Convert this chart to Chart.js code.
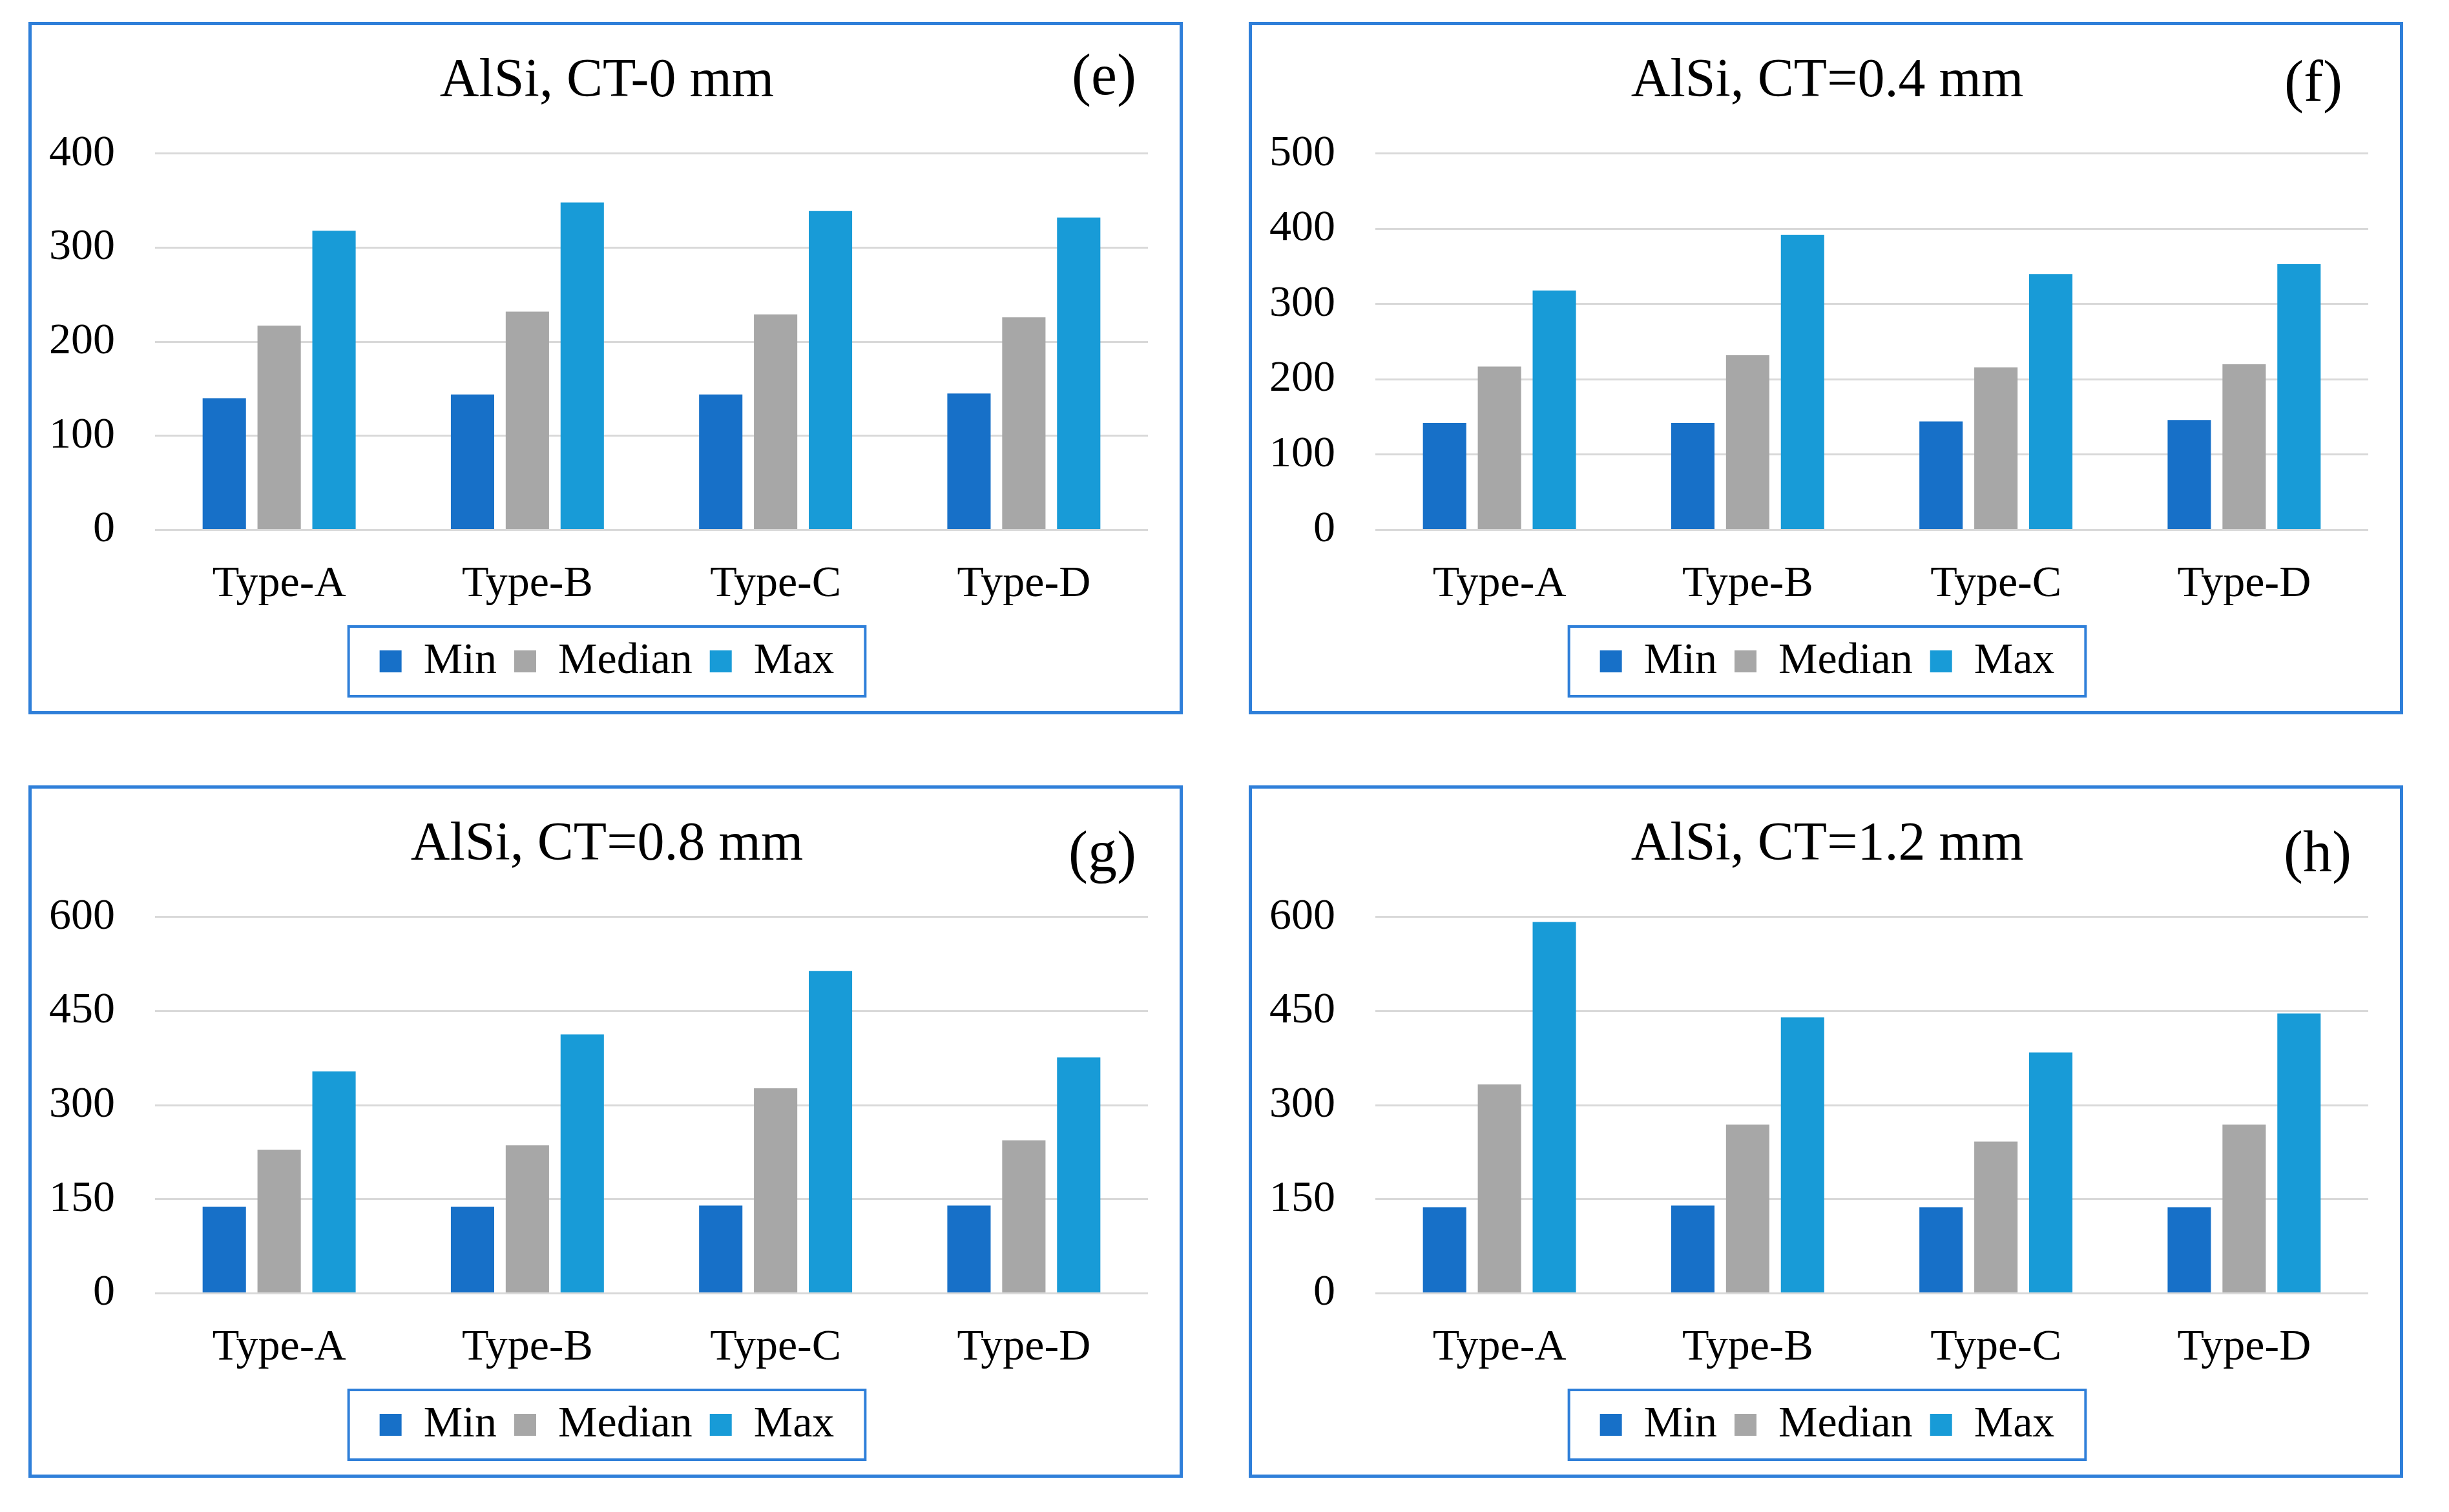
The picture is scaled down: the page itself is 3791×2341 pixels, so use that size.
<!DOCTYPE html>
<html lang="en">
<head>
<meta charset="UTF-8">
<title>AlSi - Min / Median / Max by type</title>
<script src="https://cdn.jsdelivr.net/npm/chart.js@4"></script>
<style>
  body { margin: 0; background: #fff; width: 3791px; height: 2341px; position: relative; overflow: hidden; }
  .panel { position: absolute; width: 1787px; height: 1072px; box-sizing: border-box; border: 5px solid #2f7fd9; }
  .panel canvas { position: absolute; left: -5px; top: -5px; }
  .tag { position: absolute; font-family: 'Liberation Serif', 'Times New Roman', serif; font-size: 90px; line-height: 90px; color: #000; }
</style>
</head>
<body>

<script>
// categories and series
const categories = ['Type-A', 'Type-B', 'Type-C', 'Type-D'];
const seriesNames = ['Min', 'Median', 'Max'];
const titles = ['AlSi, CT-0 mm', 'AlSi, CT=0.4 mm', 'AlSi, CT=0.8 mm', 'AlSi, CT=1.2 mm'];
const tags = ['(e)', '(f)', '(g)', '(h)'];

// values
const minE = [140, 144, 144, 145];
const medE = [217, 232, 229, 226];
const maxE = [318, 348, 339, 332];

const minF = [142, 142, 144, 146];
const medF = [217, 232, 216, 220];
const maxF = [318, 392, 340, 353];

const minG = [138, 138, 140, 140];
const medG = [229, 236, 327, 244];
const maxG = [354, 413, 514, 376];

const minH = [137, 140, 137, 137];
const medH = [333, 269, 242, 269];
const maxH = [592, 440, 384, 446];

// y axis ticks
const yMax = [400, 500, 600, 600];
const yStep = [100, 100, 150, 150];

const mins = [minE, minF, minG, minH];
const meds = [medE, medF, medG, medH];
const maxs = [maxE, maxF, maxG, maxH];

// layout (page px)
const panelPos = [[44, 34], [1933, 34], [44, 1216], [1933, 1216]];
const tagRight = [72, 94, 72, 80];
const tagMidY = [82, 92, 103, 103];
const colors = ['#1770c8', '#a7a7a7', '#189bd7'];
const frameBlue = '#2f7fd9';

Chart.defaults.font.family = "'Liberation Serif', 'Times New Roman', serif";
Chart.defaults.color = '#000';

// nudges title and legend sideways so they centre on the panel, not on the padded box
const centerShift = {
    id: 'centerShift',
    afterLayout(chart, args, opts) {
        [chart.titleBlock, chart.legend].forEach(b => {
            if (b) { b.left += opts.dx; b.right += opts.dx; }
        });
    }
};

// draws the framed box around the legend items
const legendFrame = {
    id: 'legendFrame',
    afterDraw(chart, args, opts) {
        const boxes = chart.legend && chart.legend.legendHitBoxes;
        if (!boxes || !boxes.length) return;
        const l = Math.min(...boxes.map(b => b.left));
        const r = Math.max(...boxes.map(b => b.left + b.width));
        const cy = boxes[0].top + boxes[0].height / 2;
        const ctx = chart.ctx;
        ctx.save();
        ctx.strokeStyle = opts.color;
        ctx.lineWidth = opts.width;
        ctx.strokeRect(l - opts.padX, cy - opts.halfH, r - l + 2 * opts.padX, 2 * opts.halfH);
        ctx.restore();
    }
};

for (let i = 0; i < 4; i++) {
    const panel = document.createElement('div');
    panel.className = 'panel';
    panel.style.left = panelPos[i][0] + 'px';
    panel.style.top = panelPos[i][1] + 'px';

    const canvas = document.createElement('canvas');
    canvas.width = 1787;
    canvas.height = 1072;
    panel.appendChild(canvas);

    const tag = document.createElement('div');
    tag.className = 'tag';
    tag.textContent = tags[i];
    tag.style.right = (tagRight[i] - 5) + 'px';
    tag.style.top = (tagMidY[i] - 45 - 5) + 'px';
    panel.appendChild(tag);

    document.body.appendChild(panel);

    const values = [mins[i], meds[i], maxs[i]];

    new Chart(canvas, {
        type: 'bar',
        data: {
            labels: categories,
            datasets: seriesNames.map((name, k) => ({
                label: name,
                data: values[k],
                backgroundColor: colors[k],
                borderWidth: 0
            }))
        },
        options: {
            responsive: false,
            animation: false,
            devicePixelRatio: 1,
            layout: { padding: { left: 32, right: 54, top: 0, bottom: 38 } },
            datasets: { bar: { categoryPercentage: 0.663, barPercentage: 0.79 } },
            scales: {
                x: {
                    grid: { display: false },
                    border: { display: false },
                    ticks: { font: { size: 68 }, padding: 36, maxRotation: 0, color: '#000' },
                    afterFit: s => { s.height -= 19; }
                },
                y: {
                    min: 0,
                    max: yMax[i],
                    ticks: { stepSize: yStep[i], font: { size: 68 }, padding: 62, color: '#000' },
                    grid: { color: '#d9d9d9', lineWidth: 3, drawTicks: false },
                    border: { display: false },
                    afterFit: s => { s.width = 164; }
                }
            },
            plugins: {
                title: {
                    display: true,
                    text: titles[i],
                    color: '#000',
                    font: { size: 84, weight: 'normal' },
                    padding: { top: 43, bottom: 60 }
                },
                legend: {
                    position: 'bottom',
                    labels: { font: { size: 68 }, boxWidth: 34, boxHeight: 34, padding: 27, color: '#000' }
                },
                tooltip: { enabled: false },
                centerShift: { dx: 13 },
                legendFrame: { color: frameBlue, width: 4, padX: 48, halfH: 54 }
            }
        },
        plugins: [centerShift, legendFrame]
    });
}
</script>
</body>
</html>
